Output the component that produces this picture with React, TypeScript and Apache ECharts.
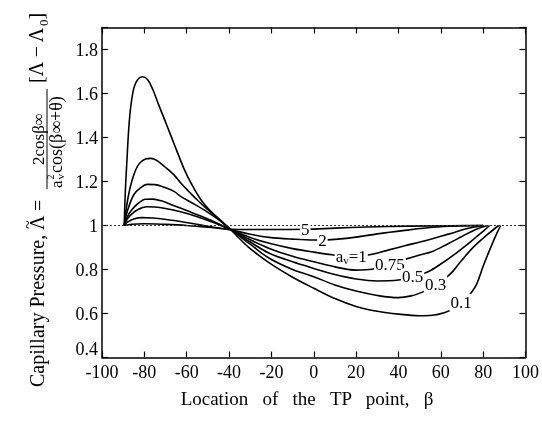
import React, { useEffect, useRef } from "react";
import * as echarts from "echarts";

// a_v curves: [beta, Lambda~]
const av01: number[][] = [
  [-89.5, 1.0], [-89, 1.15], [-88.2, 1.3], [-87.3, 1.45], [-86.3, 1.55], [-84.8, 1.63], [-83, 1.665],
  [-81, 1.676], [-78.5, 1.664], [-76, 1.618], [-73.5, 1.555], [-70.4, 1.48], [-67.3, 1.404],
  [-64.2, 1.328], [-61, 1.252], [-57.9, 1.192], [-53.2, 1.116], [-48.5, 1.063], [-43.8, 1.022],
  [-39, 0.98], [-35, 0.94], [-30, 0.895], [-21, 0.83], [-10, 0.765], [0, 0.715], [10, 0.668],
  [20, 0.632], [30, 0.61], [40, 0.597], [50, 0.59], [56, 0.592], [62, 0.605], [66, 0.622],
  [70, 0.65], [74, 0.69], [77, 0.735], [80, 0.815], [83.4, 0.896], [86.5, 0.965], [88.3, 1.0],
];
const av03: number[][] = [
  [-89.5, 1.0], [-88.5, 1.08], [-87, 1.16], [-85, 1.23], [-82.5, 1.28], [-79.5, 1.302], [-77, 1.305],
  [-74, 1.295], [-70.4, 1.267], [-66, 1.23], [-62.7, 1.192], [-58.5, 1.15], [-55, 1.116], [-51, 1.08],
  [-47, 1.048], [-43, 1.013], [-39, 0.98], [-30, 0.915], [-21, 0.851], [-10, 0.8], [0, 0.767],
  [10, 0.73], [20, 0.702], [30, 0.682], [40, 0.672], [46, 0.68], [51, 0.696], [55, 0.714], [59, 0.738],
  [63, 0.767], [66, 0.795], [69.3, 0.835], [75.6, 0.904], [81.8, 0.957], [87.3, 1.0],
];
const av05: number[][] = [
  [-89.5, 1.0], [-88.5, 1.05], [-87, 1.095], [-85, 1.14], [-82, 1.17], [-78.5, 1.187], [-75, 1.186],
  [-71, 1.175], [-66, 1.155], [-62.7, 1.131], [-56, 1.095], [-50, 1.06], [-44, 1.02], [-39, 0.98],
  [-30, 0.925], [-21, 0.874], [-10, 0.835], [0, 0.805], [10, 0.777], [20, 0.757], [30, 0.748],
  [40, 0.752], [47, 0.766], [54, 0.79], [60, 0.825], [66, 0.865], [72, 0.91], [77, 0.95],
  [80.5, 0.978], [83, 1.0],
];
const av075: number[][] = [
  [-89.5, 1.0], [-88, 1.04], [-86, 1.07], [-83, 1.1], [-79.5, 1.119], [-76, 1.12], [-72, 1.112],
  [-66, 1.09], [-60, 1.068], [-52, 1.038], [-45, 1.008], [-39, 0.98], [-30, 0.935], [-21, 0.896],
  [-10, 0.86], [0, 0.835], [10, 0.812], [20, 0.797], [28, 0.802], [36, 0.825], [43, 0.846],
  [50, 0.866], [56, 0.882], [63, 0.915], [70, 0.95], [76, 0.98], [82, 1.0],
];
const av1: number[][] = [
  [-89.5, 1.0], [-88, 1.03], [-86, 1.052], [-83, 1.073], [-79, 1.085], [-75, 1.084], [-70, 1.077],
  [-62, 1.06], [-55, 1.04], [-47, 1.012], [-39, 0.98], [-30, 0.945], [-21, 0.919], [-10, 0.895],
  [0, 0.879], [10, 0.865], [17.7, 0.858], [27, 0.868], [35, 0.888], [43, 0.908], [50.6, 0.926],
  [56, 0.94], [64, 0.962], [72, 0.985], [80, 1.0],
];
const av2: number[][] = [
  [-89.5, 1.0], [-88, 1.015], [-85, 1.03], [-81, 1.036], [-76, 1.034], [-68, 1.025], [-58, 1.01],
  [-48, 0.993], [-39, 0.98], [-30, 0.96], [-21, 0.946], [-10, 0.938], [0, 0.934], [4, 0.934],
  [10, 0.937], [20, 0.947], [30, 0.962], [43, 0.978], [56, 0.992], [68, 0.998], [80, 1.0],
];
const av5: number[][] = [
  [-89.5, 1.0], [-86, 1.006], [-80, 1.008], [-70, 1.005], [-60, 1.0], [-50, 0.992], [-39, 0.983],
  [-30, 0.982], [-20, 0.982], [-4, 0.983], [10, 0.988], [25, 0.993], [45, 0.997], [65, 0.999], [80, 1.0],
];

const curves = [av01, av03, av05, av075, av1, av2, av5];

const labelTexts = ["5", "2", "a_v=1", "0.75", "0.5", "0.3", "0.1"];
const labelBeta = [-4, 4.1, 17.7, 36, 46.7, 57.5, 69.6];
const labelLambda = [0.98, 0.934, 0.857, 0.825, 0.766, 0.734, 0.65];

const FONT = "'Liberation Serif', 'DejaVu Serif', serif";
const NB = "\u00a0";

export default function App() {
  const ref = useRef<HTMLDivElement>(null);
  useEffect(() => {
    if (!ref.current) return;
    const chart = echarts.init(ref.current, undefined, { renderer: "svg" });
    const axisLine = { show: true, onZero: false, lineStyle: { color: "#000", width: 1.5 } };
    const tick = { show: true, inside: true, length: 6, lineStyle: { color: "#000", width: 1.2 } };
    const lineSeries: any[] = curves.map((d, i) => ({
      type: "line",
      data: d,
      showSymbol: false,
      smooth: 0.35,
      silent: true,
      z: 3,
      lineStyle: { color: "#000", width: 1.6 },
      ...(i === 0
        ? {
            markLine: {
              silent: true,
              symbol: "none",
              label: { show: false },
              lineStyle: { type: [2, 2], color: "#333", width: 1 },
              data: [{ yAxis: 1 }],
            },
          }
        : {}),
    }));
    const labelSeries = {
      type: "scatter",
      symbolSize: 0,
      silent: true,
      z: 6,
      data: labelTexts.map((t, i) => ({ name: t, value: [labelBeta[i], labelLambda[i]] })),
      label: {
        show: true,
        position: "inside",
        color: "#000",
        opacity: 1,
        backgroundColor: "#fff",
        padding: [0, 1, 0, 1],
        formatter: (p: any) => (p.name === "a_v=1" ? "{a|a}{s|v}{a|=1}" : "{a|" + p.name + "}"),
        rich: {
          a: { fontFamily: FONT, fontSize: 17, color: "#000", lineHeight: 17 },
          s: { fontFamily: FONT, fontSize: 11, color: "#000", lineHeight: 17, verticalAlign: "bottom", padding: [6, 0, 0, 0] },
        },
      },
    };
    const g = (lx: number, ly: number, text: string, size: number, align = "left") => ({
      type: "text",
      x: lx,
      y: ly,
      style: { text, font: `${size}px ${FONT}`, fill: "#000", align, verticalAlign: "middle" },
    });
    chart.setOption({
      animation: false,
      grid: { left: 102, right: 13, top: 27.5, bottom: 66.5, containLabel: false },
      xAxis: [
        {
          type: "value", min: -100, max: 100, interval: 20, position: "bottom",
          axisLine, axisTick: tick, splitLine: { show: false },
          axisLabel: { color: "#000", fontFamily: FONT, fontSize: 18, margin: 5 },
        },
        {
          type: "value", min: -100, max: 100, interval: 20, position: "top",
          axisLine, axisTick: tick, splitLine: { show: false }, axisLabel: { show: false },
        },
      ],
      yAxis: [
        {
          type: "value", min: 0.4, max: 1.9, interval: 0.2, position: "left",
          axisLine, axisTick: tick, splitLine: { show: false },
          axisLabel: {
            color: "#000", fontFamily: FONT, fontSize: 18, margin: 4,
            verticalAlignMinLabel: "bottom",
            formatter: (v: number) => (v > 1.85 ? "" : String(Math.round(v * 10) / 10)),
          },
        },
        {
          type: "value", min: 0.4, max: 1.9, interval: 0.2, position: "right",
          axisLine, axisTick: tick, splitLine: { show: false }, axisLabel: { show: false },
        },
      ],
      series: [...lineSeries, labelSeries],
      graphic: [
        {
          type: "text",
          x: 307,
          y: 398,
          style: {
            text: ["Location", "of", "the", "TP", "point,", "β"].join(" " + NB + NB),
            font: `19px ${FONT}`,
            fill: "#000",
            align: "center",
            verticalAlign: "middle",
          },
        },
        {
          type: "group",
          x: 0,
          y: 387,
          rotation: Math.PI / 2,
          children: [
            g(0, 37, "Capillary Pressure,", 20),
            g(157, 37, "Λ", 20),
            g(158, 27, "~", 16),
            g(176, 38, "=", 20),
            g(248, 38, "2cosβ∞", 17, "center"),
            {
              type: "line",
              shape: { x1: 198, y1: 47, x2: 298, y2: 47 },
              style: { stroke: "#000", lineWidth: 1 },
            },
            g(199, 56, "a", 17),
            g(207.5, 50, "2", 10),
            g(207.5, 60, "v", 11),
            g(214, 56, "cos(β∞+θ)", 18),
            g(304, 36, "[Λ − Λ", 20),
            g(361, 43, "0", 13),
            g(367.5, 36, "]", 20),
          ],
        },
      ],
    });
    return () => chart.dispose();
  }, []);
  return <div ref={ref} style={{ width: 542, height: 424, position: "fixed", left: 0, top: 0 }} />;
}
